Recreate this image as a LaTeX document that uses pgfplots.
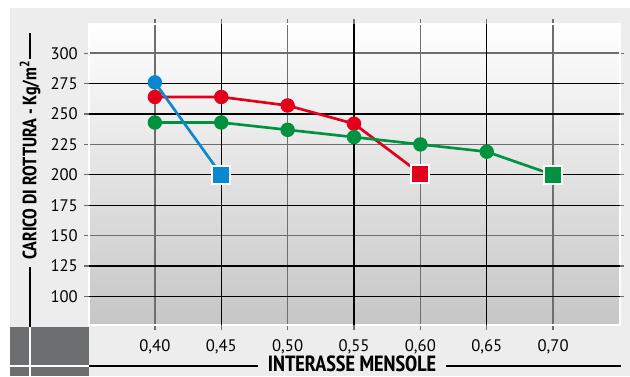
\documentclass[border=0pt]{standalone}
\usepackage{pgfplots}
\pgfplotsset{compat=1.18}
\usepackage{fontspec}
\setmainfont{PT Sans}
\newfontfamily\condb{PT Sans Narrow}
\definecolor{bgc}{HTML}{ECEDEC}
\definecolor{darkbox}{HTML}{6D6E70}
\definecolor{gridg}{HTML}{6E6E6E}
\definecolor{botg}{HTML}{C6C6C6}
\definecolor{sblue}{HTML}{0A88CF}
\definecolor{sred}{HTML}{E2001A}
\definecolor{sgreen}{HTML}{00923F}
\begin{document}
\begin{tikzpicture}
\begin{scope}[x=0.75pt,y=-0.75pt]
\useasboundingbox (0,0) rectangle (630,376);
\fill[bgc] (10,8) rectangle (630,376);
\fill[darkbox] (10,327) rectangle (88.5,376);
\draw[white,line width=0.9pt] (30,327) -- (30,376);
\draw[white,line width=0.9pt] (10,366) -- (88.5,366);
\draw[black,line width=0.8pt] (88.5,366) -- (258,366);
\draw[black,line width=0.8pt] (446,366) -- (620.5,366);
\draw[black,line width=0.8pt] (30,33) -- (30,59);
\draw[black,line width=0.8pt] (30,267) -- (30,327);
\node[rotate=90,inner sep=0pt] at (30,160) {\condb\bfseries\fontsize{14.5}{16}\selectfont CARICO DI ROTTURA - Kg/m\textsuperscript{2}};
\node[inner sep=0pt, anchor=base] at (352,371) {\condb\bfseries\fontsize{16.5}{18}\selectfont INTERASSE MENSOLE};
\end{scope}
\begin{axis}[
  at={(66.375pt,-243.75pt)}, anchor=south west,
  scale only axis, width=398.25pt, height=225.75pt,
  xmin=0.35, xmax=0.75, ymin=76.5, ymax=324,
  axis background/.style={top color=white, bottom color=botg},
  axis line style={white, line width=1.5pt},
  xtick={0.40,0.50,0.60,0.70},
  extra x ticks={0.45,0.55,0.65},
  ytick={150,225,300},
  extra y ticks={100,125,175,200,250,275},
  grid=major,
  major grid style={gridg, line width=1.2pt},
  extra tick style={major grid style={black, line width=1pt}, major tick length=3.5pt},
  tick align=outside,
  major tick length=3.5pt,
  tick style={gridg, line width=1pt},
  xticklabel style={/pgf/number format/fixed, /pgf/number format/fixed zerofill, /pgf/number format/precision=2, /pgf/number format/use comma, yshift=-4pt},
  ticklabel style={font=\fontsize{12.5}{14}\selectfont, text=black},
  /pgf/number format/assume math mode=true,
  yticklabel style={xshift=-1pt},
  clip=false,
]
\addplot[sred, line width=2pt, mark=*, mark size=4.4pt, mark indices={1,2,3,4}]
  coordinates {(0.40,264) (0.45,264) (0.50,257) (0.55,242) (0.60,201)};
\addplot[only marks, mark=square*, mark size=6.8pt, mark options={fill=sred, draw=white, line width=1.5pt}]
  coordinates {(0.60,201)};
\addplot[sgreen, line width=2pt, mark=*, mark size=4.4pt, mark indices={1,2,3,4,5,6}]
  coordinates {(0.40,243) (0.45,243) (0.50,237) (0.55,231) (0.60,225) (0.65,219) (0.70,200)};
\addplot[only marks, mark=square*, mark size=6.8pt, mark options={fill=sgreen, draw=white, line width=1.5pt}]
  coordinates {(0.70,200)};
\addplot[sblue, line width=2pt, mark=*, mark size=4.4pt, mark indices={1}]
  coordinates {(0.40,276) (0.45,200)};
\addplot[only marks, mark=square*, mark size=6.8pt, mark options={fill=sblue, draw=white, line width=1.5pt}]
  coordinates {(0.45,200)};
\end{axis}
\end{tikzpicture}
\end{document}
